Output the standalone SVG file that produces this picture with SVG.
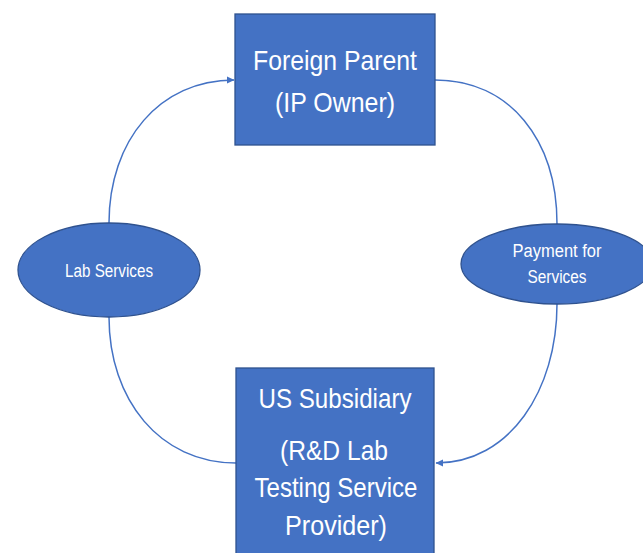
<svg xmlns="http://www.w3.org/2000/svg" width="643" height="553" viewBox="0 0 643 553">
<defs>
<marker id="arr" markerWidth="8" markerHeight="8" refX="7" refY="4" orient="auto" markerUnits="userSpaceOnUse">
<path d="M0,0.5 L7.5,4 L0,7.5 Z" fill="#4472C4"/>
</marker>
<style>
.box{fill:#4472C4;stroke:#2F528F;stroke-width:1.3}
.ell{fill:#4472C4;stroke:#2F528F;stroke-width:1.3}
.big{font-family:"Liberation Sans",Arial,sans-serif;font-size:28px;fill:#FFFFFF;text-anchor:middle}
.sm{font-family:"Liberation Sans",Arial,sans-serif;font-size:18px;fill:#FFFFFF;text-anchor:middle}
.con{fill:none;stroke:#4472C4;stroke-width:1.5}
</style>
</defs>
<rect width="643" height="553" fill="#FFFFFF"/>
<g id="connectors">
<path class="con" d="M109,223 C109,140 160,80 234,80" marker-end="url(#arr)"/>
<path class="con" d="M109,317 C109,400 160,463 236,463"/>
<path class="con" d="M435,80 C510,80 557,140 557,224"/>
<path class="con" d="M557,304 C557,390 510,463 436,463" marker-end="url(#arr)"/>
</g>
<g id="foreign-parent">
<rect class="box" x="235" y="14" width="200" height="131"/>
<text class="big" x="335" y="70" textLength="164" lengthAdjust="spacingAndGlyphs">Foreign Parent</text>
<text class="big" x="335" y="112" textLength="120" lengthAdjust="spacingAndGlyphs">(IP Owner)</text>
</g>
<g id="us-subsidiary">
<rect class="box" x="236" y="368" width="198" height="190"/>
<text class="big" x="335" y="408" textLength="153" lengthAdjust="spacingAndGlyphs">US Subsidiary</text>
<text class="big" x="334" y="460" textLength="108" lengthAdjust="spacingAndGlyphs">(R&amp;D Lab</text>
<text class="big" x="336" y="497" textLength="163" lengthAdjust="spacingAndGlyphs">Testing Service</text>
<text class="big" x="336" y="535" textLength="102" lengthAdjust="spacingAndGlyphs">Provider)</text>
</g>
<g id="lab-services">
<ellipse class="ell" cx="109" cy="270" rx="91" ry="47"/>
<text class="sm" x="109" y="277" textLength="88" lengthAdjust="spacingAndGlyphs">Lab Services</text>
</g>
<g id="payment">
<ellipse class="ell" cx="557" cy="264" rx="96" ry="40"/>
<text class="sm" x="557" y="257" textLength="89" lengthAdjust="spacingAndGlyphs">Payment for</text>
<text class="sm" x="557" y="283" textLength="59" lengthAdjust="spacingAndGlyphs">Services</text>
</g>
</svg>
